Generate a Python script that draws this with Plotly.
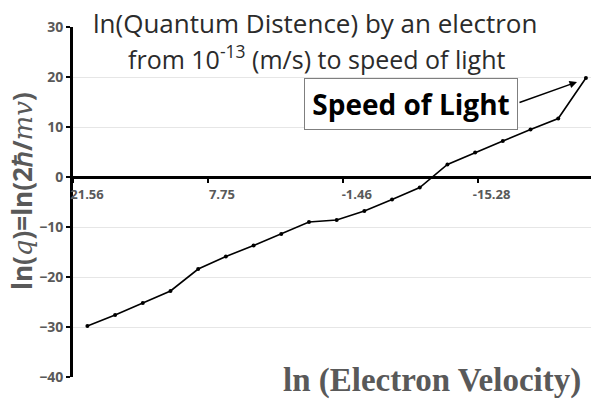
import plotly.graph_objects as go

# ---- data ----
ln_q = [-29.8, -27.6, -25.2, -22.8, -18.4, -15.9, -13.7, -11.4, -9.0, -8.6,
        -6.8, -4.5, -2.1, 2.5, 4.9, 7.2, 9.5, 11.7, 19.8]
x_tick_labels = ["21.56", "7.75", "-1.46", "-15.28"]
y_ticks = [-40, -30, -20, -10, 0, 10, 20, 30]

x_idx = list(range(len(ln_q)))

# ---- layout geometry (page pixels; the page body has an 8px margin) ----
OFF = 8
W, H = 599 - OFF, 400 - OFF
PL, PR, PT, PB = 73, 597, 27, 377          # plot area in page pixels
X0, X1 = -0.52, 18.4
tick_step = 4.87


def px_x(px):
    return (px - PL) / (PR - PL)


def px_y(py):
    return (PB - py) / (PB - PT)


GRAY = "#595959"

fig = go.Figure()
fig.add_trace(go.Scatter(
    x=x_idx, y=ln_q, mode="lines+markers",
    line=dict(color="black", width=1.6),
    marker=dict(color="black", size=4),
    showlegend=False, hoverinfo="skip",
))

fig.update_layout(
    width=W, height=H,
    margin=dict(l=PL - OFF, r=(599 - PR), t=PT - OFF, b=(400 - PB),
                autoexpand=False),
    paper_bgcolor="white", plot_bgcolor="white",
    xaxis=dict(
        range=[X0, X1], anchor="free", position=40 / 70,
        automargin=False,
        showline=True, linecolor="black", linewidth=3,
        showgrid=False, zeroline=False,
        tickmode="array",
        tickvals=[X0 + k * tick_step for k in range(len(x_tick_labels))],
        ticktext=x_tick_labels,
        ticks="outside", ticklen=4, tickwidth=2, tickcolor="black",
        ticklabelshift=14,
        tickfont=dict(family="Open Sans", size=13, color=GRAY, weight="bold"),
    ),
    yaxis=dict(
        range=[-40, 30], tickvals=y_ticks,
        automargin=False,
        showline=True, linecolor="black", linewidth=3,
        showgrid=True, gridcolor="#e6e6e6", gridwidth=1,
        zeroline=False,
        ticks="outside", ticklen=4, tickwidth=2, tickcolor="black",
        tickfont=dict(family="Open Sans", size=14, color=GRAY, weight="bold"),
    ),
)

ann = []
# title lines
ann.append(dict(text="ln(Quantum Distence) by an electron",
                x=px_x(315), y=px_y(23), xref="paper", yref="paper",
                xanchor="center", yanchor="middle", showarrow=False,
                bgcolor="white", borderpad=0,
                font=dict(family="Open Sans", size=26, color="#2b2b2b")))
ann.append(dict(text="from 10<sup>-13</sup> (m/s) to speed of light",
                x=px_x(317), y=px_y(57), xref="paper", yref="paper",
                xanchor="center", yanchor="middle", showarrow=False,
                font=dict(family="Open Sans", size=25, color="#2b2b2b")))
# Speed of Light box
ann.append(dict(text="<b>Speed of Light</b>",
                x=px_x(411), y=px_y(104), xref="paper", yref="paper",
                xanchor="center", yanchor="middle", showarrow=False,
                width=208, height=46, borderpad=2,
                bordercolor="#7f7f7f", borderwidth=1, bgcolor="white",
                font=dict(family="Open Sans", size=28, color="black")))
# arrow
ann.append(dict(text="", x=px_x(577), y=px_y(82), xref="paper", yref="paper",
                ax=518 - 577, ay=103 - 82, showarrow=True,
                arrowhead=2, arrowsize=1, arrowwidth=1.5, arrowcolor="black",
                standoff=0, startstandoff=0))
# y axis title
ann.append(dict(text=("<b>ln(</b><span style=\"font-family:'DejaVu Serif'\"><i>q</i></span>"
                      "<b>)=ln(2ℏ/</b><span style=\"font-family:'DejaVu Serif'\"><i>mv</i></span><b>)</b>"),
                x=px_x(22), y=px_y(191), xref="paper", yref="paper",
                xanchor="center", yanchor="middle", showarrow=False,
                textangle=-90, borderpad=0,
                font=dict(family="Open Sans", size=26, color=GRAY)))
# x axis title
ann.append(dict(text="<b>ln (Electron Velocity)</b>",
                x=px_x(432), y=px_y(381), xref="paper", yref="paper",
                xanchor="center", yanchor="middle", showarrow=False,
                font=dict(family="Liberation Serif", size=33, color=GRAY)))
fig.update_layout(annotations=ann)

fig.write_html("out.html")
